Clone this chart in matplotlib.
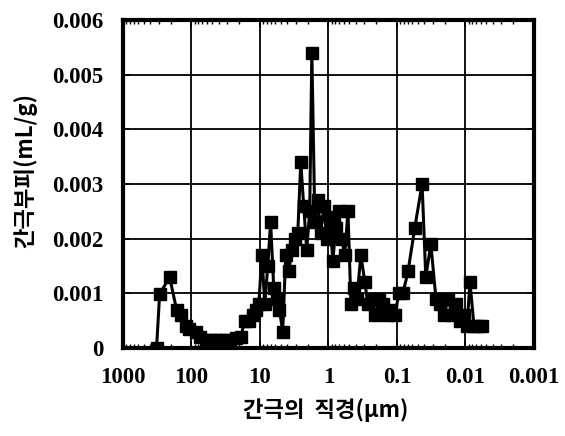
import matplotlib
matplotlib.use("Agg")
import matplotlib.pyplot as plt
from matplotlib.ticker import FixedLocator, LogLocator, NullFormatter

# Pore diameter (um) and incremental pore volume (mL/g)
diameter_um = [324, 292, 209, 165, 144, 122, 107, 87, 76, 62, 53, 44, 38, 32, 27,
               22.6, 19.1, 16.7, 14.6, 12.8, 11.6, 10.4, 9.4, 8.5, 7.7, 7.0, 6.3,
               5.7, 5.2, 4.66, 4.21, 3.80, 3.44, 3.11, 2.81, 2.54, 2.30, 2.08, 1.88,
               1.75, 1.58, 1.43, 1.30, 1.17, 1.06, 0.96, 0.865, 0.78, 0.71, 0.64,
               0.58, 0.52, 0.47, 0.43, 0.385, 0.337, 0.294, 0.266, 0.233, 0.210,
               0.184, 0.161, 0.141, 0.123, 0.107, 0.094, 0.082, 0.069, 0.055, 0.043,
               0.038, 0.032, 0.027, 0.0236, 0.0206, 0.0180, 0.0157, 0.0138, 0.0120,
               0.0105, 0.0095, 0.0086, 0.0075, 0.0066, 0.0057]
pore_volume = [0.0, 0.00098, 0.0013, 0.0007, 0.0006, 0.0004, 0.00035, 0.0003, 0.0002,
               0.00015, 0.00015, 0.00015, 0.00015, 0.00015, 0.00015, 0.00018, 0.0002,
               0.0005, 0.0005, 0.0006, 0.0007, 0.0008, 0.0017, 0.0008, 0.0015, 0.0023,
               0.0011, 0.0009, 0.0007, 0.0003, 0.0017, 0.0014, 0.0018, 0.0020, 0.0021,
               0.0034, 0.0026, 0.0018, 0.0025, 0.0054, 0.0023, 0.0027, 0.0021, 0.0026,
               0.0020, 0.0024, 0.0016, 0.0022, 0.0025, 0.0020, 0.0017, 0.0025, 0.0008,
               0.0011, 0.0009, 0.0017, 0.0012, 0.0008, 0.0009, 0.0006, 0.0009, 0.0008,
               0.0006, 0.0007, 0.0006, 0.0010, 0.0010, 0.0014, 0.0022, 0.0030, 0.0013,
               0.0019, 0.0009, 0.0008, 0.0006, 0.0009, 0.0006, 0.0008, 0.0005, 0.0006,
               0.0004, 0.0012, 0.0004, 0.0004, 0.0004]

x_ticks = [1000, 100, 10, 1, 0.1, 0.01, 0.001]
x_tick_labels = ["1000", "100", "10", "1", "0.1", "0.01", "0.001"]
y_ticks = [0, 0.001, 0.002, 0.003, 0.004, 0.005, 0.006]
y_tick_labels = ["0", "0.001", "0.002", "0.003", "0.004", "0.005", "0.006"]

KR = ["Noto Sans CJK KR", "DejaVu Sans"]

fig = plt.figure(figsize=(5.65, 4.36), dpi=100)
ax = fig.add_axes([0.2177, 0.2018, 0.7274, 0.7523])

ax.plot(diameter_um, pore_volume, color="black", lw=2.2,
        marker="s", markersize=8, markerfacecolor="black",
        markeredgecolor="black", zorder=3)

ax.set_xscale("log")
ax.set_xlim(1000, 0.001)
ax.set_ylim(0, 0.006)

ax.xaxis.set_major_locator(FixedLocator(x_ticks))
ax.set_xticklabels(x_tick_labels)
ax.xaxis.set_minor_locator(LogLocator(base=10, subs=range(2, 10), numticks=20))
ax.xaxis.set_minor_formatter(NullFormatter())
ax.set_yticks(y_ticks)
ax.set_yticklabels(y_tick_labels)

for lab in ax.get_xticklabels() + ax.get_yticklabels():
    lab.set_fontfamily("Liberation Serif")
    lab.set_fontweight("bold")
    lab.set_fontsize(16.5)

ax.grid(True, which="major", color="black", lw=1.3)
ax.tick_params(axis="x", which="major", direction="in", length=5, width=1.2,
               pad=14, top=True)
ax.tick_params(axis="x", which="minor", direction="in", length=3, width=1.0,
               top=True)
ax.tick_params(axis="y", which="major", direction="in", length=5, width=1.2,
               pad=14, right=True)
for s in ax.spines.values():
    s.set_linewidth(3.0)

fig.text(0.577, 0.06, "간극의  직경(μm)", ha="center", va="center",
         family=KR, fontsize=16, fontweight="bold")
fig.text(0.044, 0.61, "간극부피(mL/g)", ha="center", va="center",
         rotation=90, family=KR, fontsize=16, fontweight="bold")

fig.savefig("out.png", dpi=100)
